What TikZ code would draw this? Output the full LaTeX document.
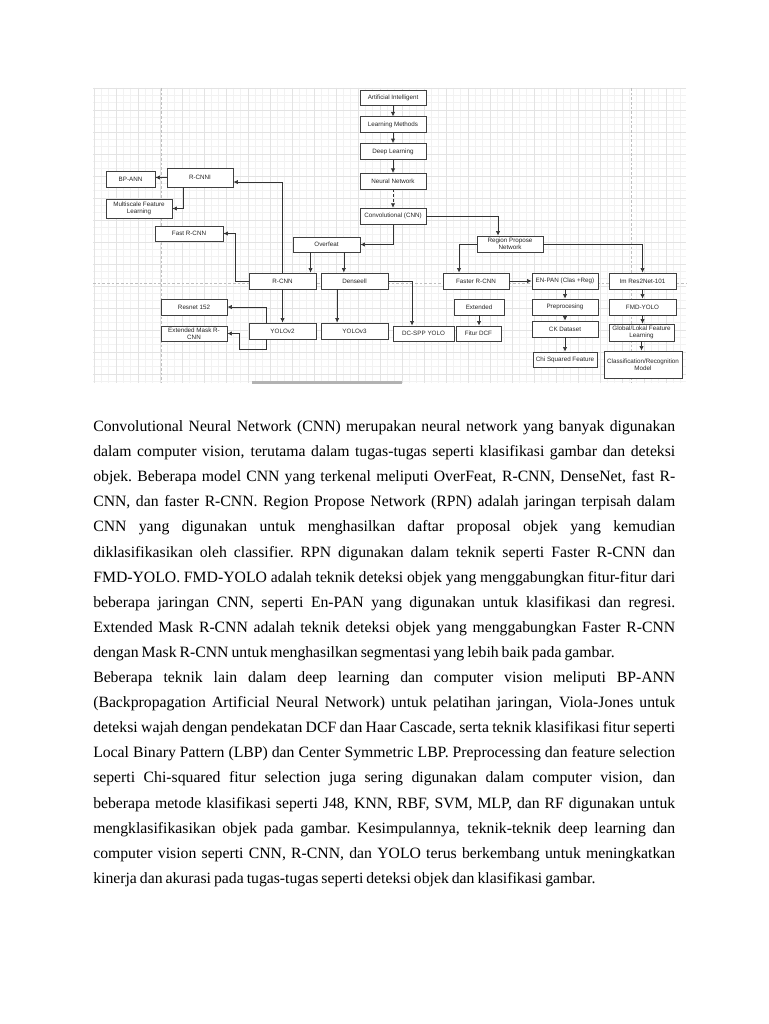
\documentclass[tikz,border=0pt]{standalone}
\usepackage{fontspec}
\setmainfont{Liberation Serif}
\setsansfont{Liberation Sans}
\usetikzlibrary{positioning,arrows.meta}
\newcommand{\justline}[1]{\makebox[436.5pt][s]{#1}}

\begin{document}
\begin{tikzpicture}[x=0.75pt,y=-0.75pt,>={Latex[length=3.4pt,width=3.2pt]},node distance=8pt and 8pt,
  every node/.style={font=\sffamily\fontsize{4.7}{5.6}\selectfont},
  box/.style={draw=black!75,line width=0.6pt,fill=white,align=center,inner sep=0.3pt,minimum width=49.5pt,minimum height=12pt,text=black!85},
  link/.style={->,draw=black!80,line width=0.5pt},
  gridfine/.style={draw=black!5,line width=0.3pt},
  gridmain/.style={draw=black!11,line width=0.4pt},
  pagebreak/.style={draw=black!25,line width=0.4pt,dash pattern=on 2pt off 1.5pt}]
\useasboundingbox (0,0) rectangle (768,1024);
\fill[white] (0,0) rectangle (768,1024);
\foreach \gx in {94,101.33,...,686}{\draw[gridfine] (\gx,88) -- (\gx,383);}
\foreach \gy in {88,95.33,...,383}{\draw[gridfine] (93,\gy) -- (686,\gy);}
\foreach \gx in {94,116,...,686}{\draw[gridmain] (\gx,88) -- (\gx,383);}
\foreach \gy in {88,110,...,383}{\draw[gridmain] (93,\gy) -- (686,\gy);}
\draw[pagebreak] (161,88) -- (161,383);
\draw[pagebreak] (631,88) -- (631,383);
\draw[pagebreak] (93,283) -- (686,283);
\fill[black!30] (252,381) rectangle (402,384);
\node[box,minimum height=11.25pt] (ai) at (393,97.5) {Artificial Intelligent};
\node[box,below=8.25pt of ai] (lm) {Learning Methods};
\node[box,below=7.5pt of lm] (dl) {Deep Learning};
\node[box,below=9.75pt of dl] (nn) {Neural Network};
\node[box,below=13.5pt of nn] (cnn) {Convolutional (CNN)};
\node[box,minimum height=14.25pt] (rcnni) at (200,177.5) {R-CNNI};
\node[box,minimum width=36.75pt] (bpann) at (130.5,179) {BP-ANN};
\node[box,minimum height=14.25pt] (msfl) at (139,208.5) {Multiscale Feature\\Learning};
\node[box,minimum width=51pt,minimum height=11.25pt] (fastrcnn) at (189,233.5) {Fast R-CNN};
\node[box,minimum width=50.25pt,minimum height=11.25pt] (overfeat) at (326.5,244.5) {Overfeat};
\node[box,minimum width=50.25pt] (rcnn) at (282.5,281) {R-CNN};
\node[box,minimum width=50.25pt] (dense) at (354.5,281) {Denseell};
\node[box] (resnet) at (194,307) {Resnet 152};
\node[box,minimum height=11.25pt] (extmask) at (194,333.5) {Extended Mask R-\\CNN};
\node[box,minimum width=50.25pt] (yolo2) at (282.5,331) {YOLOv2};
\node[box,minimum width=50.25pt] (yolo3) at (354.5,331) {YOLOv3};
\node[box,minimum width=45.75pt,minimum height=11.25pt] (dcspp) at (423.5,333.5) {DC-SPP YOLO};
\node[box] (rpn) at (510,244) {Region Propose\\Network};
\node[box] (faster) at (476,281) {Faster R-CNN};
\node[box] (enpan) at (565,281) {EN-PAN (Clas +Reg)};
\node[box,minimum width=50.25pt] (imres) at (642.5,281) {Im Res2Net-101};
\node[box,minimum width=37.5pt] (extd) at (479,307) {Extended};
\node[box,minimum width=33.75pt,minimum height=11.25pt] (fitur) at (478.5,333.5) {Fitur DCF};
\node[box] (prep) at (565,307) {Preprocesing};
\node[box] (ck) at (565,329) {CK Dataset};
\node[box,minimum width=48pt,minimum height=11.25pt] (chi) at (565,359.5) {Chi Squared Feature};
\node[box,minimum width=50.25pt] (fmd) at (642.5,307) {FMD-YOLO};
\node[box,minimum width=48.75pt,minimum height=12.75pt] (glf) at (641.5,332.5) {Global/Lokal Feature\\Learning};
\node[box,minimum width=58.5pt,minimum height=20.25pt] (cls) at (643,364.5) {Classification/Recognition\\Model};
\foreach \a/\b in {ai/lm,lm/dl,dl/nn,extd/fitur,enpan/prep,prep/ck,ck/chi,imres/fmd,fmd/glf,glf/cls}{\draw[link] (\a.south) -- (\a.south |- \b.north);}
\draw[link,dash pattern=on 2pt off 1.5pt] (nn) -- (cnn);
\draw[link] (cnn.south) |- (overfeat.east);
\draw[link] (cnn.east) -| ([xshift=-9pt]rpn.north);
\draw[link] ([xshift=-12pt]overfeat.south) -- ([xshift=-12pt]overfeat.south |- rcnn.north);
\draw[link] ([xshift=13pt]overfeat.south) -- ([xshift=13pt]overfeat.south |- dense.north);
\draw[link] (rcnn.north) |- ([yshift=-3.4pt]rcnni.east);
\draw[link] (rcnn.south) -- (yolo2.north);
\draw[link] (rcnn.west) -- ++(-13,0) |- (fastrcnn.east);
\draw[link] (rcnni.west) -- (rcnni.west -| bpann.east);
\draw[link] ([xshift=-12.75pt]rcnni.south) |- (msfl.east);
\draw[link] ([xshift=-13pt]dense.south) -- ([xshift=-13pt]dense.south |- yolo3.north);
\draw[link] (dense.east) -| ([xshift=-8.6pt]dcspp.north);
\draw[link] ([xshift=-12.4pt]yolo2.north) |- (resnet.east);
\draw[link] ([xshift=-12.4pt]yolo2.south) |- ++(-27,10) |- (extmask.east);
\draw[link] (rpn.west) -| ([xshift=-12.75pt]faster.north);
\draw[link] (rpn.east) -| (imres.north);
\draw[link] (faster.east) -- (enpan.west);
\node[anchor=base west,inner sep=0pt,text width=436.5pt,align=left,font=\rmfamily\fontsize{11.8}{18.83}\selectfont] (para) at (93,431.5) {%
\spaceskip=0.19em plus 1.5em minus 0.05em\xspaceskip=\spaceskip
\justline{Convolutional Neural Network (CNN) merupakan neural network yang banyak digunakan}\\
\justline{dalam computer vision, terutama dalam tugas-tugas seperti klasifikasi gambar dan deteksi}\\
\justline{objek. Beberapa model CNN yang terkenal meliputi OverFeat, R-CNN, DenseNet, fast R-}\\
\justline{CNN, dan faster R-CNN. Region Propose Network (RPN) adalah jaringan terpisah dalam}\\
\justline{CNN yang digunakan untuk menghasilkan daftar proposal objek yang kemudian}\\
\justline{diklasifikasikan oleh classifier. RPN digunakan dalam teknik seperti Faster R-CNN dan}\\
\justline{FMD-YOLO. FMD-YOLO adalah teknik deteksi objek yang menggabungkan fitur-fitur dari}\\
\justline{beberapa jaringan CNN, seperti En-PAN yang digunakan untuk klasifikasi dan regresi.}\\
\justline{Extended Mask R-CNN adalah teknik deteksi objek yang menggabungkan Faster R-CNN}\\
dengan Mask R-CNN untuk menghasilkan segmentasi yang lebih baik pada gambar.\\
\justline{Beberapa teknik lain dalam deep learning dan computer vision meliputi BP-ANN}\\
\justline{(Backpropagation Artificial Neural Network) untuk pelatihan jaringan, Viola-Jones untuk}\\
\justline{deteksi wajah dengan pendekatan DCF dan Haar Cascade, serta teknik klasifikasi fitur seperti}\\
\justline{Local Binary Pattern (LBP) dan Center Symmetric LBP. Preprocessing dan feature selection}\\
\justline{seperti Chi-squared fitur selection juga sering digunakan dalam computer vision, dan}\\
\justline{beberapa metode klasifikasi seperti J48, KNN, RBF, SVM, MLP, dan RF digunakan untuk}\\
\justline{mengklasifikasikan objek pada gambar. Kesimpulannya, teknik-teknik deep learning dan}\\
\justline{computer vision seperti CNN, R-CNN, dan YOLO terus berkembang untuk meningkatkan}\\
kinerja dan akurasi pada tugas-tugas seperti deteksi objek dan klasifikasi gambar.};
\end{tikzpicture}
\end{document}
